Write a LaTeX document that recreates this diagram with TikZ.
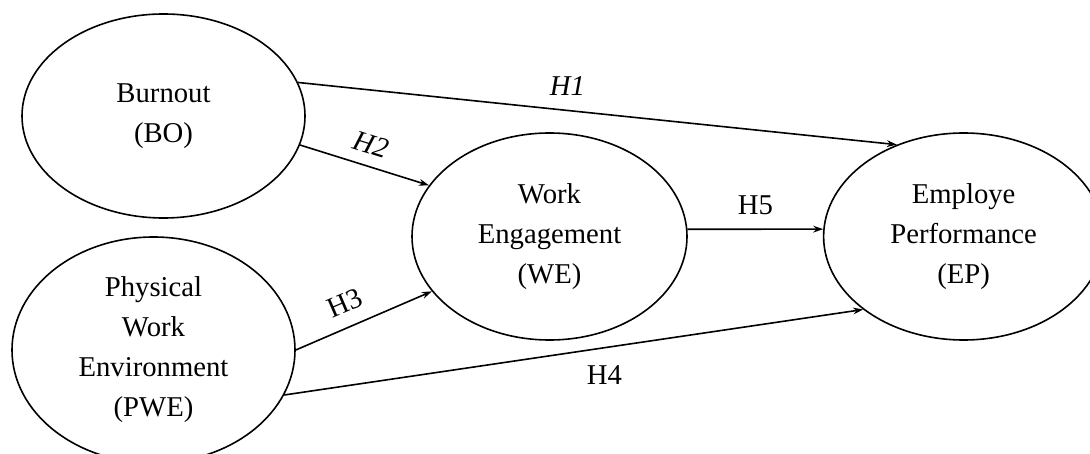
\documentclass[tikz,border=0pt]{standalone}
\usepackage{fontspec}
\setmainfont{Liberation Serif}
\usetikzlibrary{arrows.meta, positioning, shapes.geometric}

\begin{document}
\begin{tikzpicture}[
  x=0.5pt, y=-0.5pt,
  var/.style = {ellipse, draw, line width=0.8pt, inner sep=0pt, align=center, font=\fontsize{14.35}{20}\selectfont},
  hyp/.style = {inner sep=0pt, font=\fontsize{14.35}{20}\selectfont},
  hypit/.style = {inner sep=0pt, font=\fontsize{14.35}{20}\selectfont\itshape},
  >={Stealth[length=5pt, width=3.4pt]},
  node distance=67.5pt
  ]
  \path[use as bounding box, clip] (0,0) rectangle (1090,454);

  % Variables
  \node[var, minimum width=141.5pt, minimum height=102pt] (bo) at (163.5,116) {Burnout\\(BO)};
  \node[var, minimum width=141.5pt, minimum height=113pt] (pwe) at (153.5,350) {Physical\\Work\\Environment\\(PWE)};
  \node[var, minimum width=137.5pt, minimum height=103.5pt] (we) at (549.5,236.5) {Work\\Engagement\\(WE)};
  \node[var, minimum width=140pt, minimum height=103.5pt, right=of we] (ep) {Employe\\Performance\\(EP)};

  % Hypotheses
  \draw[->, line width=0.8pt] (bo.14.7) -- node[hypit, pos=0.45, above=7.25pt] (h1) {H1} (ep.126.7);
  \draw[->, line width=0.8pt] (bo.-12.6) -- node[hypit, sloped, pos=0.5, above=5.5pt] (h2) {H2} (we.157.8);
  \draw[->, line width=0.8pt] (pwe.0.4) -- node[hyp, sloped, pos=0.43, above=6.5pt] (h3) {H3} (we.205.3);
  \draw[->, line width=0.8pt] (pwe.-19) -- node[hyp, pos=0.553, below=8.5pt] (h4) {H4} (ep.216.3);
  \draw[->, line width=0.8pt] (we.3) -- node[hyp, pos=0.5, above=6.75pt] (h5) {H5} (ep.177);

\end{tikzpicture}
\end{document}
